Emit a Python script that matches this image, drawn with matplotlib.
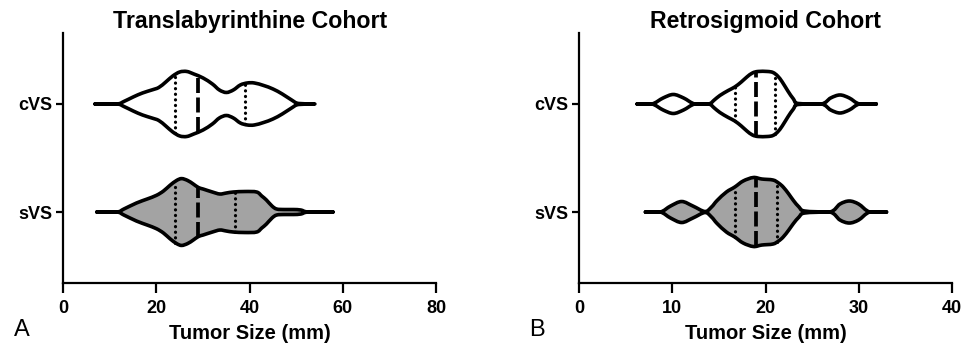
import numpy as np
import matplotlib
matplotlib.use('Agg')
import matplotlib.pyplot as plt
from matplotlib.path import Path
from matplotlib.patches import PathPatch

plt.rcParams['font.family'] = ['Liberation Sans', 'DejaVu Sans']

# Category labels (top to bottom)
groups = ["cVS", "sVS"]

# Violin outlines: tumor size (mm) and relative half-width
tl_cvs_x = [6.8, 11.5, 13, 15, 17, 19, 20.5, 22, 23.5, 25, 26.5, 28, 30, 32, 33.5, 35,
            36.5, 38, 39.5, 41, 43, 45, 47, 49, 50.5, 54]
tl_cvs_w = [0, 0, 2.5, 7, 11, 14, 16.5, 22, 28, 32, 32.5, 30, 26, 20, 14, 11.5,
            14, 19, 21, 21, 18.5, 15, 10, 4, 0.5, 0]
tl_svs_x = [7.2, 11.5, 13, 15.7, 18, 20, 21.5, 22.9, 24.3, 25.4, 26.7, 27.9, 29, 30, 32,
            33.6, 35, 36.5, 39, 41.5, 42.6, 43.6, 44.8, 45.8, 47.5, 49.4, 51, 52.6, 57.9]
tl_svs_w = [0, 0, 3, 9, 13, 16.7, 21, 26.7, 31.5, 33.4, 31.5, 28, 24.5, 23, 20,
            18, 19, 20, 20.5, 20, 16, 12, 6, 3, 2.5, 2.5, 2, 0, 0]

rs_cvs_x = [6.2, 7.8, 9, 10.1, 11.2, 12.4, 13.9, 14.5, 15.1, 16, 16.7, 17.4, 18.0, 18.6,
            19.2, 20.2, 20.8, 21.3, 21.8, 22.4, 23, 23.5, 26.0, 27, 28, 29, 30.1, 31.9]
rs_cvs_w = [0, 0, 6, 9.5, 6, 0, 0, 4, 8.5, 13.5, 17, 22, 27, 31,
            32.5, 32.5, 31.5, 28, 22, 13, 5, 0.5, 0, 6, 9, 6, 0, 0]
rs_svs_x = [7.1, 8.7, 9.8, 11.0, 12.2, 13.5, 14.2, 14.8, 15.8, 16.7, 17.6, 18.7, 19.6,
            20.8, 21.4, 21.9, 22.5, 23.0, 23.6, 24.2, 26.9, 28, 29, 30, 31.2, 33.0]
rs_svs_w = [0, 0, 6, 10.5, 6, 0.5, 5, 11.5, 20, 25, 31, 34.5, 33,
            32, 29, 25, 18, 11.5, 5, 1, 0, 8, 11, 8, 0, 0]

# Median and quartiles (mm)
tl_median = [29, 29]
tl_q1 = [24, 24]
tl_q3 = [39, 36.8]
rs_median = [19, 19]
rs_q1 = [16.7, 16.7]
rs_q3 = [21.0, 21.2]

fig = plt.figure(figsize=(9.67, 3.54), dpi=100)
W, H = 967, 354
ylo, yhi = -0.657, 1.657
wscale = 1 / 108.0


def violin_path(xs, ws, y):
    # smooth outline through the read points using cubic Bezier segments
    n = len(xs)
    verts = [(xs[0], y + ws[0])]
    codes = [Path.MOVETO]
    for i in range(n - 1):
        p0 = max(i - 1, 0)
        p3 = min(i + 2, n - 1)
        c1x = xs[i] + (xs[i + 1] - xs[p0]) / 6
        c1w = max(ws[i] + (ws[i + 1] - ws[p0]) / 6, 0)
        c2x = xs[i + 1] - (xs[p3] - xs[i]) / 6
        c2w = max(ws[i + 1] - (ws[p3] - ws[i]) / 6, 0)
        verts += [(c1x, y + c1w), (c2x, y + c2w), (xs[i + 1], y + ws[i + 1])]
        codes += [Path.CURVE4] * 3
    top = verts[:]
    bottom = [(vx, 2 * y - vy) for vx, vy in top[::-1]]
    verts = top + [bottom[0]] + bottom[1:] + [top[0]]
    codes = codes + [Path.LINETO] + [c for c in codes[1:][::-1]] + [Path.CLOSEPOLY]
    # reversed segment codes: each curve is still three CURVE4 points
    return Path(verts, codes)


def draw_panel(ax, profiles, med, q1, q3, xmax, xticks, title):
    ypos = [1, 0]
    for (xs, ws), y, m, a, b, fc in zip(profiles, ypos, med, q1, q3, ['white', '#a3a3a3']):
        xs = np.array(xs, dtype=float)
        ws = np.array(ws, dtype=float) * wscale
        patch = PathPatch(violin_path(xs, ws, y), facecolor=fc, edgecolor='black',
                          lw=2.6, joinstyle='round', capstyle='round', zorder=2)
        ax.add_patch(patch)
        hm = np.interp(m, xs, ws)
        ax.plot([m, m], [y - hm, y + hm], color='black', lw=2.7,
                linestyle=(0, (4.0, 1.2)), zorder=3)
        for q in (a, b):
            hq = np.interp(q, xs, ws)
            ax.plot([q, q], [y - hq, y + hq], color='black', lw=2.3,
                    linestyle=(0, (0.05, 1.7)), dash_capstyle='round', zorder=3)
    ax.set_xlim(0, xmax)
    ax.set_ylim(ylo, yhi)
    ax.set_xticks(xticks)
    ax.set_yticks(ypos)
    ax.set_yticklabels(groups)
    for s in ['top', 'right']:
        ax.spines[s].set_visible(False)
    for s in ['left', 'bottom']:
        ax.spines[s].set_linewidth(1.6)
    ax.tick_params(axis='x', length=7.5, width=1.6, pad=5, labelsize=13)
    ax.tick_params(axis='y', length=5, width=1.6, pad=3, labelsize=13)
    for lab in ax.get_xticklabels() + ax.get_yticklabels():
        lab.set_fontweight('bold')
    ax.set_title(title, fontsize=16.7, fontweight='bold', pad=3)
    ax.set_xlabel("Tumor Size (mm)", fontsize=14.5, fontweight='bold', labelpad=5)


ax1 = fig.add_axes([63.3 / W, 71 / H, 372.7 / W, 250 / H])
draw_panel(ax1, [(tl_cvs_x, tl_cvs_w), (tl_svs_x, tl_svs_w)],
           tl_median, tl_q1, tl_q3, 80, [0, 20, 40, 60, 80], "Translabyrinthine Cohort")

ax2 = fig.add_axes([579.3 / W, 71 / H, 372.4 / W, 250 / H])
draw_panel(ax2, [(rs_cvs_x, rs_cvs_w), (rs_svs_x, rs_svs_w)],
           rs_median, rs_q1, rs_q3, 40, [0, 10, 20, 30, 40], "Retrosigmoid Cohort")

fig.text(22 / W, 1 - 330 / H, "A", fontsize=17, ha='center', va='center')
fig.text(537 / W, 1 - 330 / H, "B", fontsize=17, ha='center', va='center')

fig.savefig("out.png", dpi=100)
